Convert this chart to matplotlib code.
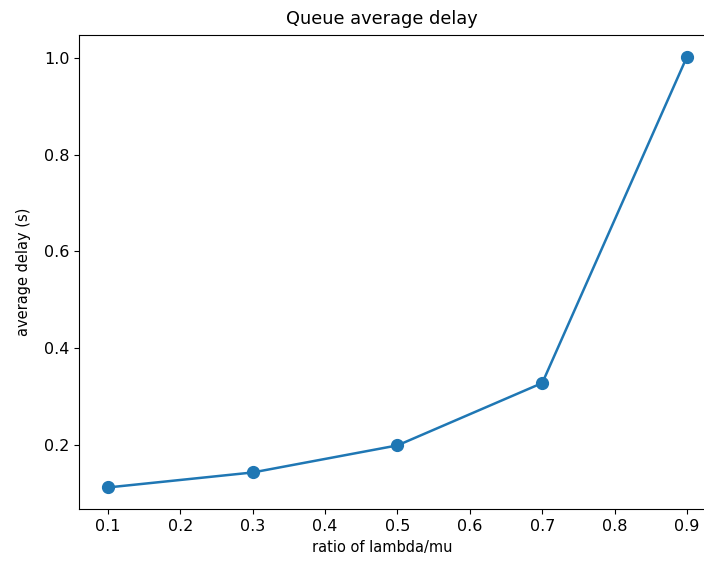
import matplotlib
matplotlib.use('Agg')
import matplotlib.pyplot as plt

ratio = [0.1, 0.3, 0.5, 0.7, 0.9]
delay = [0.112, 0.143, 0.199, 0.328, 1.003]

fig = plt.figure(figsize=(7.04, 5.65), dpi=100)
# axes runs past the right edge, as in the cropped reference
ax = fig.add_axes([79 / 704, 56 / 565, 637 / 704, 474 / 565])
ax.plot(ratio, delay, '-o', linewidth=1.8, markersize=8.5)
ax.set_title('Queue average delay', fontsize=12.8, x=0.476, pad=8)
ax.set_xlabel('ratio of lambda/mu', fontsize=10.5)
ax.xaxis.set_label_coords(0.476, -0.065)
ax.set_ylabel('average delay (s)', fontsize=10.5, labelpad=9)
ax.set_xticks([0.1, 0.2, 0.3, 0.4, 0.5, 0.6, 0.7, 0.8, 0.9])
ax.tick_params(labelsize=11.5)
ax.spines['right'].set_visible(False)

fig.savefig('out.png', dpi=100)
